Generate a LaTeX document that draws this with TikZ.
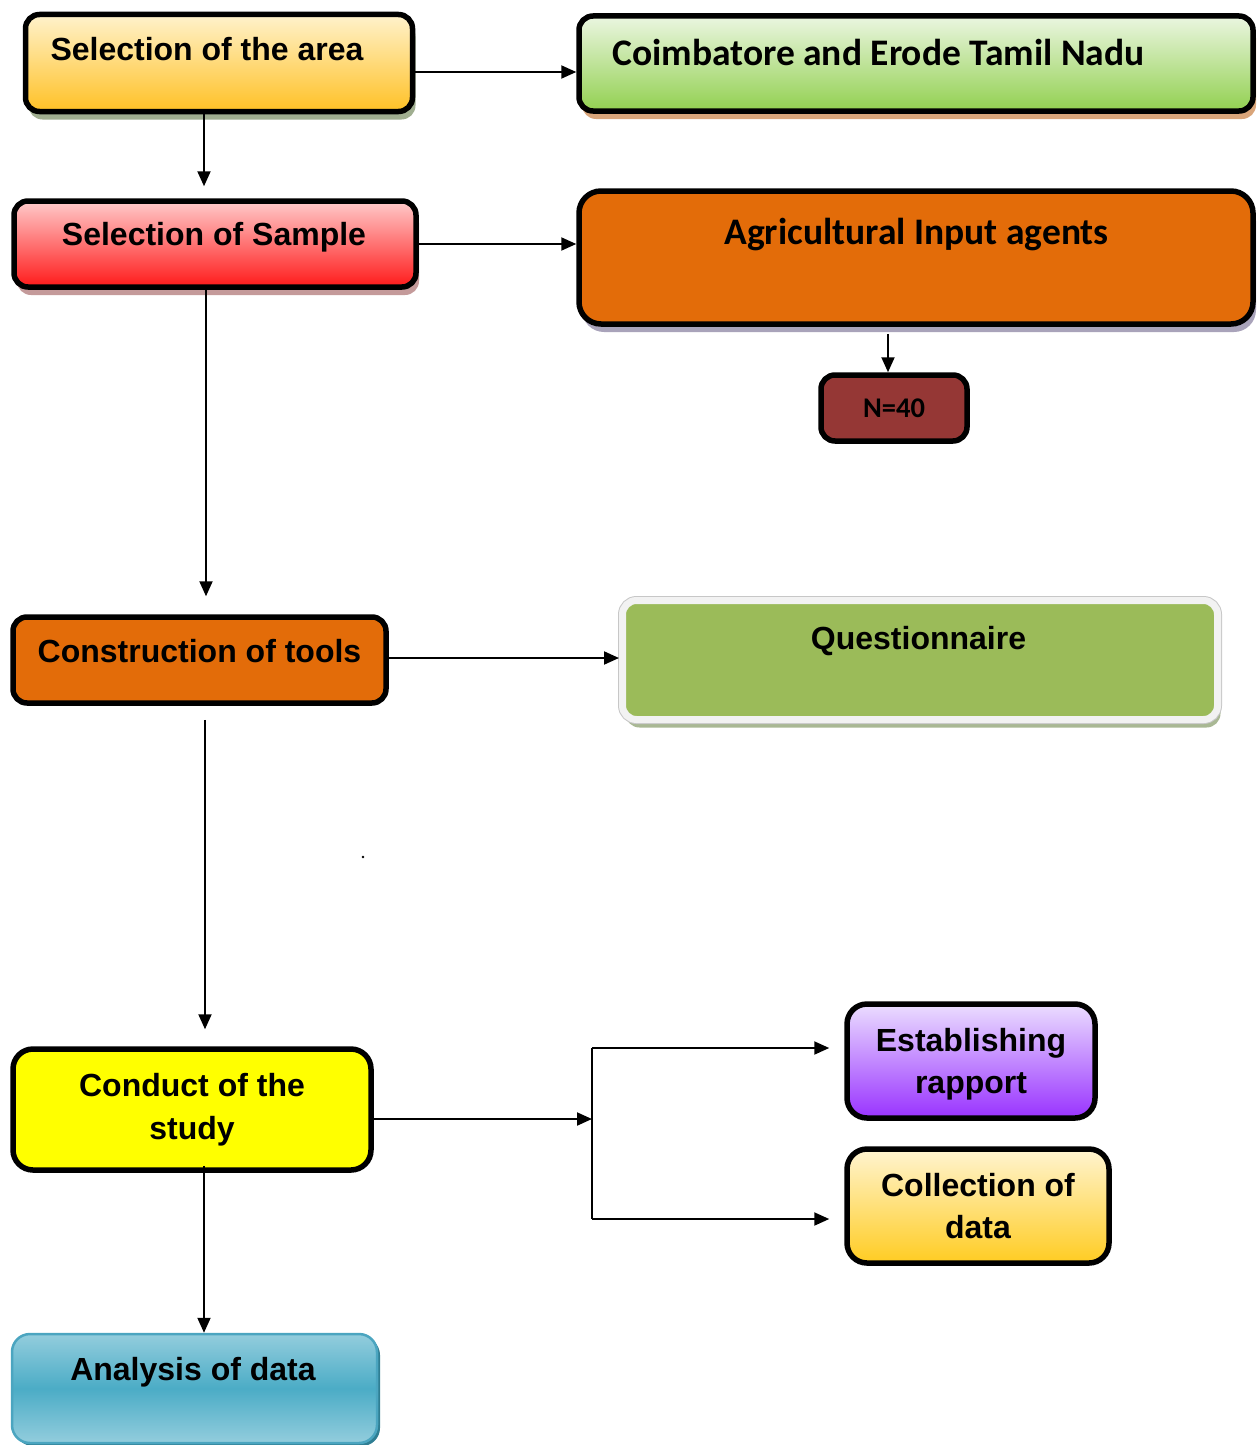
\documentclass[tikz,border=0pt]{standalone}
\usepackage{fontspec}
\setmainfont{Liberation Sans}
\newfontfamily\carl{Carlito}
\usetikzlibrary{arrows.meta,shadows}
\definecolor{Atop}{HTML}{FFF2CC}
\definecolor{Abot}{HTML}{FFC125}
\definecolor{shA}{HTML}{A0AE90}
\definecolor{Btop}{HTML}{EBF6E1}
\definecolor{Bbot}{HTML}{92D050}
\definecolor{shB}{HTML}{D9A57A}
\definecolor{Ctop}{HTML}{FFCACA}
\definecolor{Cbot}{HTML}{FF1A1A}
\definecolor{shC}{HTML}{C49A9A}
\definecolor{Dfill}{HTML}{E36C09}
\definecolor{shD}{HTML}{A9A3BA}
\definecolor{Nfill}{HTML}{953735}
\definecolor{Ffill}{HTML}{9BBB59}
\definecolor{Fbord}{HTML}{F2F2F2}
\definecolor{shF}{HTML}{A9B894}
\definecolor{Gfill}{HTML}{FFFF00}
\definecolor{Htop}{HTML}{EBDDFF}
\definecolor{Hbot}{HTML}{9933FF}
\definecolor{Itop}{HTML}{FFF4D0}
\definecolor{Ibot}{HTML}{FFCC22}
\definecolor{Jtop}{HTML}{93CDDD}
\definecolor{Jmid}{HTML}{4BACC6}
\definecolor{Jbord}{HTML}{4BA5C0}
\definecolor{shJ}{HTML}{2F7E93}
\begin{document}
\begin{tikzpicture}[x=1pt,y=-1pt,
  bx/.style={draw=black,line width=5.5pt,rounded corners=14pt,inner sep=0pt},
  arr/.style={line width=2pt,-{Triangle[length=15pt,width=13pt]}},
  ln/.style={line width=2pt},
  ta/.style={anchor=base,inner sep=0pt,font=\fontsize{32}{38}\selectfont\bfseries},
  tc/.style={anchor=base,inner sep=0pt,font=\carl\fontsize{37.5}{44}\selectfont\bfseries},
  tn/.style={anchor=base,inner sep=0pt,font=\carl\fontsize{28.5}{34}\selectfont\bfseries},
  shd/.style={drop shadow={shadow xshift=3pt,shadow yshift=-8pt,fill=#1,opacity=1}},
]
\useasboundingbox (0,0) rectangle (1259,1445);

% boxes
\node[bx,shd=shA,top color=Atop,bottom color=Abot,minimum width=387pt,minimum height=97pt] (A) at (219,63) {};
\node[bx,shd=shB,top color=Btop,bottom color=Bbot,minimum width=674pt,minimum height=95pt] (B) at (916,63.5) {};
\node[bx,shd=shC,top color=Ctop,bottom color=Cbot,minimum width=402pt,minimum height=86pt] (C) at (215,244) {};
\node[bx,shd=shD,fill=Dfill,rounded corners=22pt,minimum width=674pt,minimum height=133pt] (D) at (916,257.5) {};
\node[bx,fill=Nfill,minimum width=146pt,minimum height=66pt] (N) at (894,408) {};
\node[bx,fill=Dfill,minimum width=373pt,minimum height=86pt] (E) at (199.5,660) {};
\node[inner sep=0pt,rounded corners=14pt,drop shadow={shadow xshift=3pt,shadow yshift=-8pt,fill=shF,opacity=1},
  preaction={draw=black!22,line width=9pt},draw=Fbord,line width=7pt,fill=Ffill,
  minimum width=595pt,minimum height=119pt] (F) at (920,660) {};
\node[bx,fill=Gfill,rounded corners=20pt,minimum width=358pt,minimum height=121pt] (G) at (192,1109.5) {};
\node[bx,top color=Htop,bottom color=Hbot,rounded corners=20pt,minimum width=248pt,minimum height=114pt] (H) at (971,1061) {};
\node[bx,top color=Itop,bottom color=Ibot,rounded corners=20pt,minimum width=262pt,minimum height=114pt] (I) at (978,1206) {};
\node[inner sep=0pt,rounded corners=18pt,draw=Jbord,line width=2.5pt,
  drop shadow={shadow xshift=3pt,shadow yshift=-3pt,fill=shJ,opacity=1},
  top color=Jtop,bottom color=Jtop,middle color=Jmid,
  minimum width=365pt,minimum height=109pt] (J) at (194.5,1388.5) {};

% texts
\node[ta] (tA) at (207,60.5) {Selection of the area};
\node[tc] (tB) at (878.5,66) {Coimbatore and Erode Tamil Nadu};
\node[ta] (tC) at (214,245.5) {Selection of Sample};
\node[tc] (tD) at (916.5,244) {Agricultural Input agents};
\node[tn] (tN) at (894,417.2) {N=40};
\node[ta] (tE) at (199.5,662.5) {Construction of tools};
\node[ta] (tF) at (918.5,649.5) {Questionnaire};
\node[ta] (tG1) at (192,1096.5) {Conduct of the};
\node[ta] (tG2) at (192,1139.5) {study};
\node[ta] (tH1) at (971,1051.5) {Establishing};
\node[ta] (tH2) at (971,1093.5) {rapport};
\node[ta] (tI1) at (978,1196.5) {Collection of};
\node[ta] (tI2) at (978,1238.5) {data};
\node[ta] (tJ) at (193,1380.5) {Analysis of data};

% connectors
\coordinate (ab) at ([yshift=-9pt]A.east);
\draw[arr] (ab) -- (ab -| B.west);
\coordinate (xac) at (204,0);
\coordinate (ctop) at ([yshift=12pt]C.north);
\draw[arr] (A.south -| xac) -- (ctop -| xac);
\draw[arr] (C.east) -- (C.east -| D.west);
\coordinate (xdn) at (888,0);
\coordinate (dbot) at ([yshift=-7pt]D.south);
\draw[arr] (dbot -| xdn) -- (N.north -| xdn);
\coordinate (xce) at (206,0);
\coordinate (etop) at ([yshift=18pt]E.north);
\draw[arr] (C.south -| xce) -- (etop -| xce);
\coordinate (ef) at ([yshift=2pt]E.east);
\draw[arr] (ef) -- (ef -| F.west);
\coordinate (xeg) at (205,0);
\coordinate (ebot) at ([yshift=-14pt]E.south);
\coordinate (gtop) at ([yshift=17pt]G.north);
\draw[arr] (ebot -| xeg) -- (gtop -| xeg);
\coordinate (br) at (592,1119);
\coordinate (brt) at (592,1048);
\coordinate (brb) at (592,1219);
\draw[arr] (G.east |- br) -- (br);
\draw[ln] (brt) -- (brb);
\coordinate (hl) at ([xshift=-15pt]H.west);
\coordinate (il) at ([xshift=-15pt]I.west);
\draw[arr] (brt) -- (brt -| hl);
\draw[arr] (brb) -- (brb -| il);
\coordinate (xgj) at (204,0);
\coordinate (gin) at ([yshift=7pt]G.south);
\draw[arr] (gin -| xgj) -- (J.north -| xgj);

% stray dot
\fill (363,857) circle (1.3pt);
\end{tikzpicture}
\end{document}
